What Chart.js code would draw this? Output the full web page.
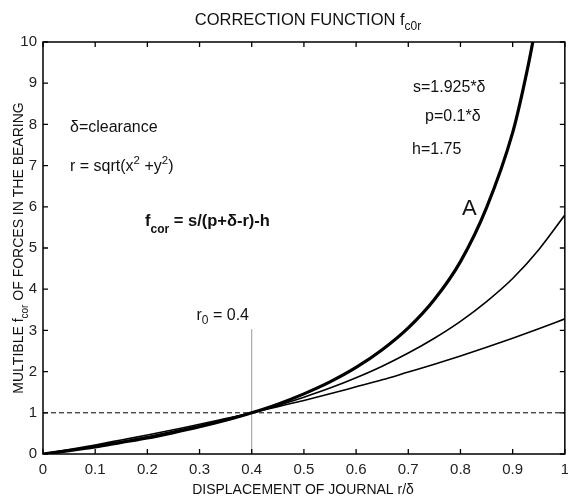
<!DOCTYPE html>
<html>
<head>
<meta charset="utf-8">
<script src="https://cdn.jsdelivr.net/npm/chart.js@4.4.1/dist/chart.umd.min.js"></script>
<style>
  html, body { margin: 0; padding: 0; background: #fff; overflow: hidden; }
  #wrap { width: 568px; height: 498px; overflow: hidden; }
</style>
</head>
<body>
<div id="wrap"><canvas id="chart" width="576" height="498"></canvas></div>
<script>
// displacement r/δ
const rValues = [0, 0.05, 0.1, 0.15, 0.2, 0.25, 0.3, 0.35, 0.4, 0.45, 0.5,
                 0.55, 0.6, 0.65, 0.7, 0.75, 0.8, 0.85, 0.9, 0.95, 1.0];
// curve A (bold) has its own r points, denser near the top
const rA = [0, 0.05, 0.1, 0.15, 0.2, 0.25, 0.3, 0.35, 0.4, 0.45, 0.5,
            0.55, 0.6, 0.65, 0.7, 0.75, 0.8, 0.85, 0.9, 0.92, 0.94, 0.96];
const curveA = [0, 0.08, 0.17, 0.28, 0.39, 0.52, 0.66, 0.82, 1.0, 1.21, 1.46,
                1.75, 2.10, 2.53, 3.06, 3.75, 4.67, 5.98, 7.8, 8.85, 10.1, 11.7];
// middle curve
const curveB = [0, 0.09, 0.2, 0.3, 0.42, 0.55, 0.69, 0.84, 1.0, 1.18, 1.38,
                1.6, 1.85, 2.13, 2.45, 2.81, 3.22, 3.7, 4.26, 4.96, 5.8];
// flattest curve
const curveC = [0, 0.11, 0.22, 0.34, 0.46, 0.59, 0.72, 0.86, 1.0, 1.15, 1.3,
                1.46, 1.63, 1.8, 1.99, 2.18, 2.38, 2.59, 2.81, 3.04, 3.28];
const refLine = [{ x: 0, y: 1 }, { x: 1, y: 1 }];
const r0Line = [{ x: 0.4, y: 0 }, { x: 0.4, y: 3.03 }];

const FONT = '"Liberation Sans", Arial, Helvetica, sans-serif';

const pts = (xs, ys) => xs.map((r, i) => ({ x: r, y: ys[i] }));

// draws text made of parts (normal / sub / sup)
function drawRich(ctx, parts, x, y, align = 'left') {
  const widths = parts.map(p => {
    ctx.font = `${p.bold ? 'bold ' : ''}${p.size}px ${FONT}`;
    return ctx.measureText(p.t).width;
  });
  const total = widths.reduce((a, b) => a + b, 0);
  let cx = x;
  if (align === 'center') cx = x - total / 2;
  if (align === 'right') cx = x - total;
  parts.forEach((p, i) => {
    ctx.font = `${p.bold ? 'bold ' : ''}${p.size}px ${FONT}`;
    ctx.fillText(p.t, cx, y + (p.dy || 0));
    cx += widths[i];
  });
}

const framePlugin = {
  id: 'frame',
  afterDraw(chart) {
    const { ctx, chartArea: a, scales: { x, y } } = chart;
    ctx.save();
    ctx.strokeStyle = '#000';
    ctx.lineWidth = 1.5;
    ctx.strokeRect(a.left, a.top, a.right - a.left, a.bottom - a.top);

    // inward ticks
    ctx.lineWidth = 1.3;
    ctx.beginPath();
    x.ticks.forEach(t => {
      const px = x.getPixelForValue(t.value);
      ctx.moveTo(px, a.bottom); ctx.lineTo(px, a.bottom - 5);
      ctx.moveTo(px, a.top); ctx.lineTo(px, a.top + 5);
    });
    y.ticks.forEach(t => {
      const py = y.getPixelForValue(t.value);
      ctx.moveTo(a.left, py); ctx.lineTo(a.left + 5, py);
      ctx.moveTo(a.right, py); ctx.lineTo(a.right - 5, py);
    });
    ctx.stroke();

    ctx.fillStyle = '#111';
    ctx.textBaseline = 'alphabetic';
    ctx.textAlign = 'left';

    drawRich(ctx, [{ t: 'CORRECTION FUNCTION f', size: 16.5 }, { t: 'c0r', size: 12, dy: 5 }], 308, 25, 'center');
    drawRich(ctx, [{ t: 'DISPLACEMENT OF JOURNAL r/δ', size: 14 }], 303, 494, 'center');

    ctx.save();
    ctx.translate(23, 248);
    ctx.rotate(-Math.PI / 2);
    drawRich(ctx, [{ t: 'MULTIBLE f', size: 14 }, { t: 'cor', size: 10, dy: 5 },
                   { t: ' OF FORCES IN THE BEARING', size: 14 }], 0, 0, 'center');
    ctx.restore();

    drawRich(ctx, [{ t: 'δ=clearance', size: 16 }], 70, 132);
    drawRich(ctx, [{ t: 'r = sqrt(x', size: 16 }, { t: '2', size: 11.5, dy: -7 },
                   { t: ' +y', size: 16 }, { t: '2', size: 11.5, dy: -7 }, { t: ')', size: 16 }], 70, 171);
    drawRich(ctx, [{ t: 'f', size: 16.5, bold: true }, { t: 'cor', size: 12, bold: true, dy: 7 },
                   { t: ' = s/(p+δ-r)-h', size: 16.5, bold: true }], 145, 226);
    drawRich(ctx, [{ t: 's=1.925*δ', size: 16 }], 413, 92);
    drawRich(ctx, [{ t: 'p=0.1*δ', size: 16 }], 425, 121);
    drawRich(ctx, [{ t: 'h=1.75', size: 16 }], 412, 154);
    drawRich(ctx, [{ t: 'A', size: 22 }], 462, 215);
    drawRich(ctx, [{ t: 'r', size: 16 }, { t: '0', size: 12, dy: 4 }, { t: ' = 0.4', size: 16 }], 249, 320, 'right');
    ctx.restore();
  }
};

const line = (data, width) => ({
  data, borderColor: '#000', borderWidth: width, pointRadius: 0, cubicInterpolationMode: 'monotone'
});

new Chart(document.getElementById('chart'), {
  type: 'line',
  data: {
    datasets: [
      line(pts(rA, curveA), 3.2),
      line(pts(rValues, curveB), 1.6),
      line(pts(rValues, curveC), 1.6),
      { data: refLine, borderColor: '#000', borderWidth: 1, borderDash: [5, 3], pointRadius: 0 },
      { data: r0Line, borderColor: '#999', borderWidth: 1, pointRadius: 0 }
    ]
  },
  options: {
    responsive: false,
    animation: false,
    layout: { padding: { top: 42, right: 0, left: 0, bottom: 0 } },
    plugins: { legend: { display: false }, tooltip: { enabled: false }, title: { display: false } },
    scales: {
      x: {
        type: 'linear', min: 0, max: 1,
        grid: { display: false, tickLength: 0 }, border: { display: false },
        ticks: {
          stepSize: 0.1, padding: 7, color: '#222', maxRotation: 0,
          font: { family: FONT, size: 15 },
          callback: v => (v === 0 || v === 1) ? String(v) : v.toFixed(1)
        },
        afterFit: s => { s.height = 44; }
      },
      y: {
        min: 0, max: 10,
        grid: { display: false, tickLength: 0 }, border: { display: false },
        ticks: { stepSize: 1, padding: 6, color: '#222', font: { family: FONT, size: 15 } },
        afterFit: s => { s.width = 43; }
      }
    }
  },
  plugins: [framePlugin]
});
</script>
</body>
</html>
